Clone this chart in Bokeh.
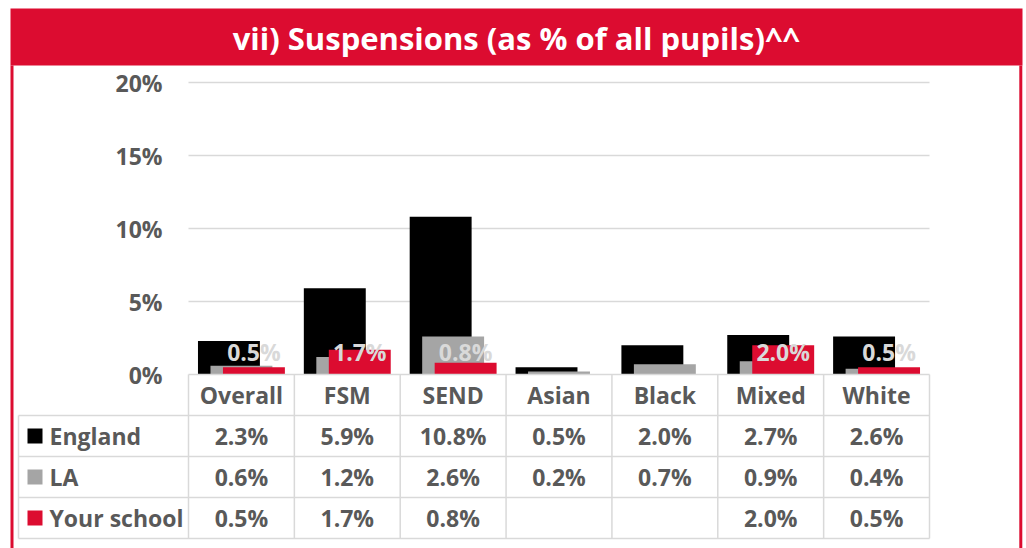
from bokeh.plotting import figure
from bokeh.models import Range1d, ColumnDataSource
from bokeh.core.properties import value
from bokeh.transform import dodge
from bokeh.embed import file_html
from bokeh.resources import INLINE

# ---------------- data ----------------
categories = ["Overall", "FSM", "SEND", "Asian", "Black", "Mixed", "White"]
england = [2.3, 5.9, 10.8, 0.5, 2.0, 2.7, 2.6]
la = [0.6, 1.2, 2.6, 0.2, 0.7, 0.9, 0.4]
your_school = [0.5, 1.7, 0.8, None, None, 2.0, 0.5]
series_names = ["England", "LA", "Your school"]
y_ticks = [0, 5, 10, 15, 20]
title_text = "vii) Suspensions (as % of all pupils)^^"

# ---------------- style / layout ----------------
RED = "#DC0C30"
GREY_BAR = "#A5A5A5"
TEXT = "#595959"
LINE = "#D9D9D9"
LABEL = "#D9D9D9"
FONT = value("Open Sans")
FS = "23px"
series_colors = ["#000000", GREY_BAR, RED]

W, H = 1026, 548
PX_X = 741 / 7.0      # pixels per category
PX_Y = 14.6           # pixels per percentage point
X0 = 188              # px of category 0 left edge
Y0 = 374              # px of 0 %


def xd(px):
    return (px - X0) / PX_X


def yd(py):
    return (Y0 - py) / PX_Y


p = figure(width=W, height=H,
           x_range=Range1d(xd(0), xd(W)), y_range=Range1d(yd(H), yd(0)),
           output_backend="svg", toolbar_location=None,
           x_axis_location=None, y_axis_location=None, min_border=0)
p.outline_line_color = None
p.xgrid.visible = False
p.ygrid.visible = False
p.background_fill_color = "white"
p.border_fill_color = "white"

# frame: title band + side borders
p.quad(left=[xd(10)], right=[xd(1022)], top=[yd(8)], bottom=[yd(65)],
       fill_color=RED, line_color=None)
p.segment(x0=[xd(11.5), xd(1020.3)], x1=[xd(11.5), xd(1020.3)],
          y0=[yd(65), yd(65)], y1=[yd(H), yd(H)], line_color=RED, line_width=3)
p.text(x=[xd(516)], y=[yd(37)], text=[title_text], text_color="white",
       text_font=FONT, text_font_style="bold", text_font_size="31px",
       text_align="center", text_baseline="middle")

n = len(categories)

# gridlines and y tick labels
grid_t = [t for t in y_ticks if t != 0]
p.segment(x0=[0] * len(grid_t), x1=[n] * len(grid_t), y0=grid_t, y1=grid_t,
          line_color=LINE, line_width=1.5)
p.text(x=[xd(162)] * len(y_ticks), y=y_ticks, text=[f"{t}%" for t in y_ticks],
       text_color=TEXT, text_font=FONT, text_font_style="bold",
       text_font_size=FS, text_align="right", text_baseline="middle")

# bars
nan = float("nan")
src = ColumnDataSource(dict(
    x=[i + 0.5 for i in range(n)],
    england=england,
    la=la,
    school=[nan if v is None else v for v in your_school],
))
offs = [-0.118, 0.0, 0.118]
for col, off, c in zip(["england", "la", "school"], offs, series_colors):
    p.vbar(x=dodge("x", off, range=p.x_range), top=col, bottom=0, width=0.585,
           source=src, fill_color=c, line_color=None)

# data labels for your school
lab_idx = [i for i, v in enumerate(your_school) if v is not None]
p.text(x=[i + 0.5 + offs[2] for i in lab_idx], y=[yd(351)] * len(lab_idx),
       text=[f"{your_school[i]:.1f}%" for i in lab_idx],
       text_color=LABEL, text_font=FONT, text_font_style="bold",
       text_font_size=FS, text_align="center", text_baseline="middle")

# ---------------- data table ----------------
rows_px = [374, 415, 456, 497, 538]
rows = [yd(r) for r in rows_px]
leg_left = xd(18)

# horizontal lines
p.segment(x0=[0] + [leg_left] * 4, x1=[n] * 5, y0=rows, y1=rows,
          line_color=LINE, line_width=1.5)
# vertical lines
p.segment(x0=list(range(n + 1)) + [leg_left], x1=list(range(n + 1)) + [leg_left],
          y0=[rows[0]] * (n + 1) + [rows[1]], y1=[rows[4]] * (n + 2),
          line_color=LINE, line_width=1.5)

# header
p.text(x=[i + 0.5 for i in range(n)], y=[(rows[0] + rows[1]) / 2] * n,
       text=categories, text_color=TEXT, text_font=FONT, text_font_style="bold",
       text_font_size=FS, text_align="center", text_baseline="middle")

all_series = [england, la, your_school]
for r, (name, vals, c) in enumerate(zip(series_names, all_series, series_colors)):
    yc = (rows[r + 1] + rows[r + 2]) / 2
    xs = [i + 0.5 for i, v in enumerate(vals) if v is not None]
    ts = [f"{v:.1f}%" for v in vals if v is not None]
    p.text(x=xs, y=[yc] * len(xs), text=ts, text_color=TEXT, text_font=FONT,
           text_font_style="bold", text_font_size=FS,
           text_align="center", text_baseline="middle")
    p.scatter(x=[xd(34.5)], y=[yc], marker="square", size=15,
              fill_color=c, line_color=None)
    p.text(x=[xd(49)], y=[yc], text=[name], text_color=TEXT, text_font=FONT,
           text_font_style="bold", text_font_size=FS,
           text_align="left", text_baseline="middle")

open("out.html", "w").write(file_html(p, INLINE))
